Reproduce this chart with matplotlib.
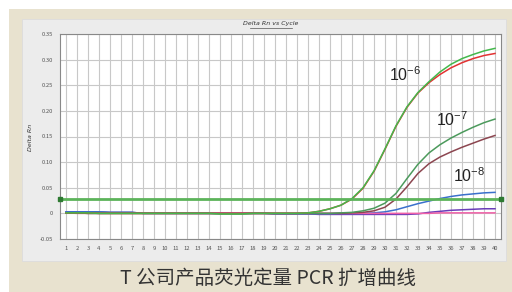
import numpy as np
import matplotlib
matplotlib.use("Agg")
import matplotlib.pyplot as plt
from matplotlib.patches import Rectangle
from matplotlib.lines import Line2D

plt.rcParams['font.family'] = ['Noto Sans CJK SC', 'DejaVu Sans']
plt.rcParams['mathtext.fontset'] = 'custom'
plt.rcParams['mathtext.rm'] = 'Liberation Sans'
plt.rcParams['mathtext.it'] = 'Liberation Sans'

cycles = np.arange(1, 41)

# amplification curves (Delta Rn per cycle)
g6 = [0.001, 0.001, 0.001, 0.0, 0.0, 0.0, 0.0, 0.0, 0.0, 0.0,
      0.0, 0.0, 0.0, 0.0, -0.001, -0.001, -0.001, 0.0, 0.0, 0.0,
      0.0, 0.0, 0.001, 0.004, 0.009, 0.016, 0.029, 0.050, 0.083, 0.126,
      0.171, 0.208, 0.236, 0.257, 0.276, 0.291, 0.302, 0.310, 0.317, 0.322]
r6 = [0.001, 0.001, 0.001, 0.0, 0.0, 0.0, 0.0, 0.0, 0.0, 0.0,
      0.0, 0.0, 0.0, 0.0, 0.0, 0.0, 0.0, 0.0, 0.0, 0.0,
      0.0, 0.0, 0.001, 0.004, 0.009, 0.016, 0.028, 0.049, 0.082, 0.125,
      0.170, 0.207, 0.235, 0.255, 0.271, 0.284, 0.294, 0.302, 0.308, 0.312]
g7 = [0.001, 0.001, 0.0, 0.0, 0.0, 0.0, 0.0, 0.0, 0.0, 0.0,
      0.0, 0.0, 0.0, 0.0, -0.001, -0.001, -0.001, 0.0, 0.0, 0.0,
      0.0, 0.0, 0.0, 0.0, 0.0, 0.001, 0.002, 0.005, 0.010, 0.020,
      0.039, 0.068, 0.096, 0.118, 0.134, 0.147, 0.158, 0.168, 0.177, 0.184]
b7 = [0.001, 0.001, 0.0, 0.0, 0.0, 0.0, 0.0, 0.0, 0.0, 0.0,
      0.0, 0.0, 0.0, 0.0, 0.0, 0.0, 0.0, 0.0, 0.0, 0.0,
      0.0, 0.0, 0.0, 0.0, 0.0, 0.0, 0.001, 0.002, 0.005, 0.012,
      0.028, 0.052, 0.078, 0.097, 0.110, 0.120, 0.129, 0.137, 0.145, 0.152]
blue8 = [0.003, 0.003, 0.003, 0.003, 0.002, 0.002, 0.002, 0.0, 0.0, 0.0,
         0.0, 0.0, 0.0, 0.0, 0.0, 0.0, 0.0, 0.0, 0.0, -0.001,
         -0.001, -0.001, -0.001, -0.001, -0.001, 0.0, 0.0, 0.0, 0.001, 0.003,
         0.007, 0.013, 0.019, 0.024, 0.029, 0.033, 0.036, 0.038, 0.040, 0.041]
purple = [0.003, 0.003, 0.003, 0.003, 0.002, 0.002, 0.002, 0.0, 0.0, 0.0,
          0.0, 0.0, 0.0, 0.0, 0.0, 0.0, 0.0, 0.0, 0.0, -0.001,
          -0.001, -0.001, -0.001, -0.002, -0.002, -0.002, -0.002, -0.002, -0.002, -0.002,
          -0.002, -0.002, -0.001, 0.002, 0.004, 0.006, 0.007, 0.008, 0.009, 0.009]
pink = [0.001, 0.0, 0.0, 0.0, 0.0, 0.0, 0.0, 0.0, 0.0, 0.0,
        0.0, 0.0, 0.0, 0.0, 0.0, 0.0, 0.0, 0.0, 0.0, 0.0,
        0.0, 0.0, 0.0, 0.0, 0.0, 0.0, 0.0, 0.0, 0.0, 0.0,
        0.0, 0.0, 0.0, 0.0, 0.001, 0.001, 0.001, 0.001, 0.001, 0.001]
threshold = 0.028

yticks = [-0.05, 0, 0.05, 0.10, 0.15, 0.20, 0.25, 0.30, 0.35]
ytick_labels = ['-0.05', '0', '0.05', '0.10', '0.15', '0.20', '0.25', '0.30', '0.35']

W, H = 512, 292
fig = plt.figure(figsize=(W / 100, H / 100), dpi=100, facecolor='white')

# beige frame and gray panel
fig.patches.append(Rectangle((9 / W, 0), 1, 1 - 9 / H, transform=fig.transFigure,
                             facecolor='#e8e2cf', edgecolor='none', zorder=-10))
fig.patches.append(Rectangle((22 / W, 1 - 261 / H), (506 - 22) / W, (261 - 19) / H,
                             transform=fig.transFigure, facecolor='#ececec',
                             edgecolor='#dcdcdc', lw=0.6, zorder=-9))

ax = fig.add_axes([60 / W, 1 - 239 / H, 441 / W, 205 / H])
ax.set_zorder(2)
ax.set_facecolor('white')
ax.set_xlim(0.455, 40.545)
ax.set_ylim(-0.05, 0.35)

ax.set_xticks(cycles)
ax.set_xticklabels([str(c) for c in cycles], fontsize=4.2, style='italic', color='#555555')
ax.set_yticks(yticks)
ax.set_yticklabels(ytick_labels, fontsize=4.2, style='italic', color='#555555')
ax.tick_params(length=0, pad=5)
ax.grid(True, color='#c8c8c8', lw=0.8)
ax.set_axisbelow(True)
for s in ax.spines.values():
    s.set_color('#888888')
    s.set_linewidth(0.8)

ax.plot(cycles, purple, color='#6a3cb8', lw=1.1)
ax.plot(cycles, blue8, color='#3a70cc', lw=1.1)
ax.plot(cycles, pink, color='#f060a8', lw=1.1)
ax.plot(cycles, b7, color='#8c4650', lw=1.1)
ax.plot(cycles, g7, color='#4c9a5c', lw=1.1)
ax.plot(cycles, r6, color='#e23232', lw=1.1)
ax.plot(cycles, g6, color='#44b84c', lw=1.1)

ax.plot([0.455, 40.545], [threshold, threshold], color='#5cb35a', lw=2.0,
        marker='s', markersize=2.2, markerfacecolor='#2e7a32',
        markeredgecolor='#2e7a32', clip_on=False, zorder=5)

lab_kw = dict(fontsize=11.5, va='center', ha='left', color='#222222', family='Liberation Sans')
ax.text(30.4, 0.27, '10$^{\\mathrm{-6}}$', **lab_kw)
ax.text(34.6, 0.182, '10$^{\\mathrm{-7}}$', **lab_kw)
ax.text(36.2, 0.074, '10$^{\\mathrm{-8}}$', **lab_kw)

# title with underline
fig.text(271 / W, 1 - 24 / H, 'Delta Rn vs Cycle', fontsize=4.5, style='italic',
         color='#333333', ha='center', va='center', family='DejaVu Sans')
fig.add_artist(Line2D([250 / W, 292 / W], [1 - 28 / H, 1 - 28 / H],
                      transform=fig.transFigure, color='#555555', lw=0.5))
fig.text(30 / W, 1 - 137 / H, 'Delta Rn', fontsize=4.5, style='italic',
         color='#333333', ha='center', va='center', rotation=90, family='DejaVu Sans')

fig.text(268 / W, 1 - 278 / H, 'T 公司产品荧光定量 PCR 扩增曲线', fontsize=14,
         color='#333333', ha='center', va='center')

fig.savefig('out.png', dpi=100, facecolor=fig.get_facecolor())
